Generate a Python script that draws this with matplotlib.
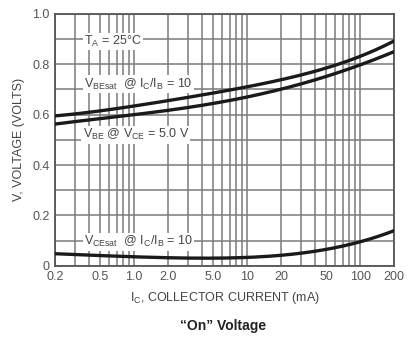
import numpy as np
import matplotlib
matplotlib.use("Agg")
import matplotlib.pyplot as plt
from matplotlib.ticker import LogLocator, FixedLocator, NullFormatter

plt.rcParams['font.family'] = ['Liberation Sans', 'DejaVu Sans']

# collector current (mA)
ic = [0.2, 0.5, 1.0, 2.0, 5.0, 10, 20, 50, 100, 200]
# V_BE(sat) @ Ic/Ib = 10
vbe_sat = [0.595, 0.615, 0.635, 0.655, 0.685, 0.71, 0.74, 0.785, 0.83, 0.893]
# V_BE @ Vce = 5 V
vbe_on = [0.563, 0.583, 0.60, 0.618, 0.645, 0.67, 0.70, 0.75, 0.80, 0.849]
# V_CE(sat) @ Ic/Ib = 10
vce_sat = [0.048, 0.042, 0.036, 0.031, 0.031, 0.035, 0.041, 0.066, 0.095, 0.14]

xticks = [0.2, 0.5, 1.0, 2.0, 5.0, 10, 20, 50, 100, 200]
xlabels = ['0.2', '0.5', '1.0', '2.0', '5.0', '10', '20', '50', '100', '200']
yticks = [0, 0.2, 0.4, 0.6, 0.8, 1.0]
ylabels = ['0', '0.2', '0.4', '0.6', '0.8', '1.0']

fig = plt.figure(figsize=(4.14, 3.37), dpi=100)
ax = fig.add_axes([0.133, 0.211, 0.819, 0.748])

# smooth curves through the read points (log x)
lx = np.log10(ic)
xs = np.linspace(lx[0], lx[-1], 200)
for ys in (vbe_sat, vbe_on, vce_sat):
    p = np.polyfit(lx, ys, 4)
    ax.plot(10 ** xs, np.polyval(p, xs), color='#1a1a1a', lw=2.4, zorder=3)

ax.set_xscale('log')
ax.set_xlim(0.2, 200)
ax.set_ylim(0, 1.0)
ax.xaxis.set_major_locator(FixedLocator(xticks))
ax.set_xticklabels(xlabels)
ax.xaxis.set_minor_locator(LogLocator(base=10, subs=np.arange(1, 10)))
ax.xaxis.set_minor_formatter(NullFormatter())
ax.set_yticks(yticks)
ax.set_yticklabels(ylabels)
ax.set_yticks(np.arange(0, 1.01, 0.1), minor=True)
ax.grid(True, which='both', color='#7a7a7a', lw=1.1)
ax.tick_params(which='both', length=0, labelsize=9, colors='#555555', pad=4)
for s in ax.spines.values():
    s.set_color('#555555')
    s.set_linewidth(1.3)

box = dict(facecolor='white', edgecolor='none', pad=1.0)
fs = 9
tc = '#444444'
ax.text(0.36, 0.89, r'T$_\mathregular{A}$ = 25°C', fontsize=fs, color=tc, bbox=box, va='center', zorder=4)
ax.text(0.36, 0.72, r'V$_\mathregular{BEsat}$  @ I$_\mathregular{C}$/I$_\mathregular{B}$ = 10',
        fontsize=fs, color=tc, bbox=box, va='center', zorder=4)
ax.text(0.35, 0.52, r'V$_\mathregular{BE}$ @ V$_\mathregular{CE}$ = 5.0 V',
        fontsize=fs, color=tc, bbox=box, va='center', zorder=4)
ax.text(0.36, 0.095, r'V$_\mathregular{CEsat}$  @ I$_\mathregular{C}$/I$_\mathregular{B}$ = 10',
        fontsize=fs, color=tc, bbox=box, va='center', zorder=4)

ax.set_ylabel('V, VOLTAGE (VOLTS)', fontsize=fs, color=tc, labelpad=5)
ax.set_xlabel(r'I$_\mathregular{C}$, COLLECTOR CURRENT (mA)', fontsize=fs, color=tc, labelpad=5)
fig.text(0.54, 0.02, '\u201cOn\u201d Voltage', fontsize=10, fontweight='bold',
         color='#222222', ha='center')

fig.savefig('out.png', dpi=100, facecolor='white')
